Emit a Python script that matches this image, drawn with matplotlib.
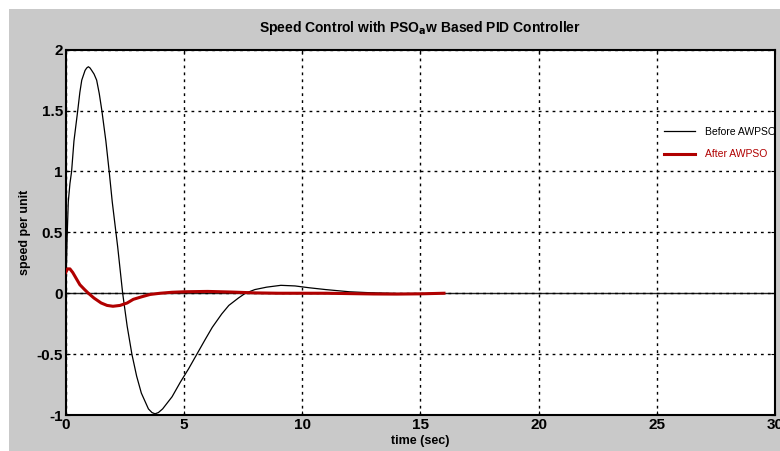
import matplotlib
matplotlib.use("Agg")
import matplotlib.pyplot as plt
from matplotlib.patches import Rectangle

plt.rcParams['font.family'] = ['Liberation Sans', 'DejaVu Sans']

# time (sec) and speed values
t_before = [0, 0.03, 0.06, 0.11, 0.18, 0.25, 0.35, 0.51, 0.6, 0.68, 0.82, 0.89, 0.96,
            1.03, 1.1, 1.2, 1.31, 1.42, 1.53, 1.7, 1.84, 1.97, 2.2, 2.41, 2.6, 2.8, 3.0,
            3.2, 3.5, 3.65, 3.78, 3.92, 4.1, 4.5, 4.85, 5.2, 5.55, 5.9, 6.2, 6.6, 6.9,
            7.3, 7.6, 8.0, 8.5, 9.1, 9.7, 10.3, 11, 12, 13, 14, 15, 16]
speed_before = [0, 0.2, 0.45, 0.75, 0.9, 1.0, 1.25, 1.5, 1.65, 1.75, 1.83, 1.85, 1.86,
                1.85, 1.83, 1.8, 1.75, 1.64, 1.5, 1.25, 1.0, 0.75, 0.38, 0, -0.27, -0.5,
                -0.68, -0.82, -0.95, -0.98, -0.99, -0.98, -0.95, -0.85, -0.73, -0.62,
                -0.5, -0.38, -0.28, -0.17, -0.1, -0.04, 0.0, 0.03, 0.05, 0.065, 0.06,
                0.045, 0.03, 0.012, 0.003, -0.003, -0.004, 0]

t_after = [0, 0.08, 0.18, 0.3, 0.45, 0.6, 0.8, 0.96, 1.2, 1.5, 1.75, 2.0, 2.3, 2.6,
           2.86, 3.2, 3.57, 4.0, 4.5, 5.0, 6.0, 7.0, 8.0, 9.0, 10, 11, 12, 13, 14, 15, 16]
speed_after = [0.17, 0.2, 0.2, 0.17, 0.12, 0.07, 0.03, 0.0, -0.04, -0.08, -0.1, -0.107,
               -0.1, -0.08, -0.05, -0.03, -0.01, 0.0, 0.008, 0.012, 0.015, 0.01, 0.003,
               0.0, 0.0, 0.0, -0.003, -0.006, -0.007, -0.005, 0]

xticks = [0, 5, 10, 15, 20, 25, 30]
yticks = [-1, -0.5, 0, 0.5, 1, 1.5, 2]
ytick_labels = ['-1', '-0.5', '0', '0.5', '1', '1.5', '2']

fig = plt.figure(figsize=(7.8, 4.51), dpi=100)
fig.patch.set_facecolor('white')
# grey window area (white strip on top and left)
fig.patches.append(Rectangle((9 / 780, 0), 1, 1 - 9 / 451, transform=fig.transFigure,
                             facecolor='#c9c9c9', edgecolor='none', zorder=-1))

ax = fig.add_axes([0.0842, 0.0798, 0.9094, 0.81])
ax.set_facecolor('white')

ax.axhline(0, color='#222222', lw=1.0, zorder=1)
ax.plot(t_before, speed_before, color='black', lw=0.9, label='Before AWPSO', zorder=3)
ax.plot(t_after, speed_after, color='#b00000', lw=2.2, label='After AWPSO', zorder=4)

ax.set_xlim(0, 30)
ax.set_ylim(-1, 2)
ax.set_xticks(xticks)
ax.set_yticks(yticks)
ax.set_yticklabels(ytick_labels)
ax.tick_params(direction='in', length=3, labelsize=11, pad=2, top=True, right=True)
for lbl in ax.get_xticklabels() + ax.get_yticklabels():
    lbl.set_fontweight('bold')
ax.grid(True, color='black', linestyle=(0, (2, 3)), linewidth=1.0)
for sp in ax.spines.values():
    sp.set_linewidth(1.5)

ax.set_title('Speed Control with PSO$_\\mathbf{a}$w Based PID Controller',
             fontsize=10, fontweight='bold', pad=13)
ax.set_xlabel('time (sec)', fontsize=9, fontweight='bold', labelpad=2)
ax.set_ylabel('speed per unit', fontsize=9, fontweight='bold', labelpad=4)

leg = ax.legend(loc='upper left', bbox_to_anchor=(0.83, 0.815), frameon=False,
                fontsize=7.5, handlelength=3.0, handletextpad=1.0, labelspacing=1.2)
leg.get_texts()[1].set_color('#b00000')

fig.savefig('out.png', dpi=100)
